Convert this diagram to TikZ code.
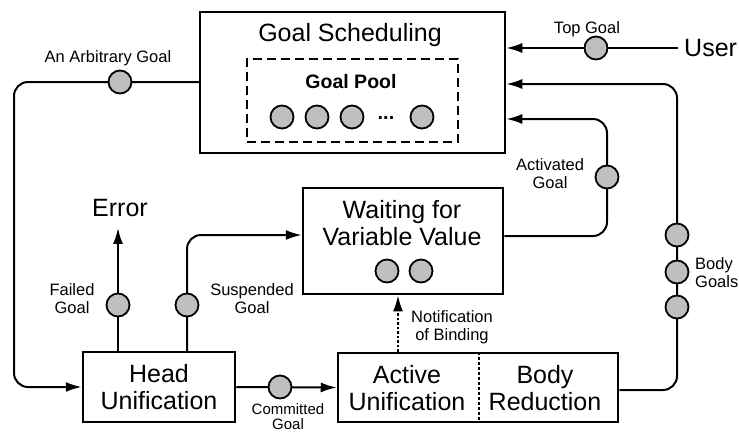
\documentclass[tikz,border=0pt]{standalone}
\usepackage{fontspec}
\setmainfont{Liberation Sans}
\usetikzlibrary{arrows.meta}
\begin{document}
\begin{tikzpicture}[x=1pt,y=-1pt,
  box/.style={draw, line width=2.5pt, rectangle, inner sep=0pt},
  big/.style={font=\fontsize{25}{27}\selectfont, align=center, inner sep=0pt},
  small/.style={font=\fontsize{16.5}{18}\selectfont, align=center, inner sep=0pt},
  goal/.style={circle, draw, line width=1.8pt, fill=gray!50, minimum size=23pt, inner sep=0pt},
  flow/.style={line width=2pt, rounded corners=14pt},
  arr/.style={flow, -{Latex[length=16pt,width=10pt]}},
  dotarr/.style={line width=2pt, dash pattern=on 2.5pt off 2pt, -{Latex[length=16pt,width=10pt]}},
]
\useasboundingbox (0,0) rectangle (739,432);

% --- Goal scheduling with its goal pool ---
\node[box, minimum width=305pt, minimum height=141pt] (sched) at (352.5,82.5) {};
\node[big] (schedT) at (350,35) {Goal Scheduling};
\node[draw, line width=1.8pt, dash pattern=on 9pt off 5pt, minimum width=211pt, minimum height=83pt, inner sep=0pt] (pool) at (352.5,100.5) {};
\node[font=\fontsize{19.5}{21}\selectfont\bfseries, inner sep=0pt] (poolT) at (351,82) {Goal Pool};
\node[goal] (p1) at (282,117) {};
\node[goal] (p2) at (317,117) {};
\node[goal] (p3) at (352,117) {};
\node[font=\fontsize{20}{22}\selectfont\bfseries, inner sep=0pt] (pdots) at (386,118) {...};
\node[goal] (p4) at (422,117) {};

% --- Waiting for variable value ---
\node[box, minimum width=200pt, minimum height=106pt] (wait) at (403,241) {};
\node[big] (waitT) at (402,223) {Waiting for\\Variable Value};
\node[goal] (w1) at (387,271) {};
\node[goal] (w2) at (421,271) {};

% --- Head unification ---
\node[box, big, minimum width=152pt, minimum height=70pt] (head) at (159,387) {Head\\Unification};

% --- Active unification | body reduction ---
\node[box, minimum width=280pt, minimum height=69pt] (act) at (478,387.5) {};
\node[big] (actL) at (407,388) {Active\\Unification};
\node[big] (actR) at (545,388) {Body\\Reduction};
\draw[line width=1.6pt, dash pattern=on 3pt off 2pt] (act.north -| 479,0) -- (act.south -| 479,0);

% --- Error sink ---
\node[big, inner xsep=0pt, inner ysep=11pt] (err) at (120,208) {Error};

% --- User and top goal ---
\node[big, anchor=west, inner xsep=6pt] (user) at (678,48) {User};
\draw[arr] (user.west) -- (sched.east |- user.west);
\node[goal] (gtop) at (596,48) {};
\node[small] (ltop) at (587,29) {Top Goal};

% --- Body goals loop ---
\draw[arr] (act.east |- 0,390) -| (677,84) -- (sched.east |- 0,84);
\node[goal] (gb1) at (677,235) {};
\node[goal] (gb2) at (677,272) {};
\node[goal] (gb3) at (677,307) {};
\node[small, align=left, anchor=west] (lbody) at (695,273) {Body\\Goals};

% --- Activated goal ---
\draw[arr] (wait.east |- 0,236) -| (607,119) -- (sched.east |- 0,119);
\node[goal] (gact) at (607,177) {};
\node[small] (lact) at (550,174) {Activated\\Goal};

% --- Arbitrary goal ---
\draw[arr] (sched.west |- 0,82) -| (14,387) -- (head.west |- 0,387);
\node[goal] (garb) at (120,82) {};
\node[small] (larb) at (108,58) {An Arbitrary Goal};

% --- Failed goal ---
\draw[arr] (head.north -| 118,0) -- (err.south -| 118,0);
\node[goal] (gfail) at (118,305) {};
\node[small] (lfail) at (72,299) {Failed\\Goal};

% --- Suspended goal ---
\draw[arr] (head.north -| 187,0) |- (wait.west |- 0,235);
\node[goal] (gsus) at (187,305) {};
\node[small] (lsus) at (252,299) {Suspended\\Goal};

% --- Committed goal ---
\draw[arr] (head.east) -- (act.west);
\node[goal] (gcom) at (280,387) {};
\node[font=\fontsize{15}{15}\selectfont, align=center, inner sep=0pt] (lcom) at (288,417) {Committed\\Goal};

% --- Notification of binding ---
\draw[dotarr] (act.north -| 398,0) -- (wait.south -| 398,0);
\node[small] (lnot) at (452,327) {Notification\\of Binding};
\end{tikzpicture}
\end{document}
